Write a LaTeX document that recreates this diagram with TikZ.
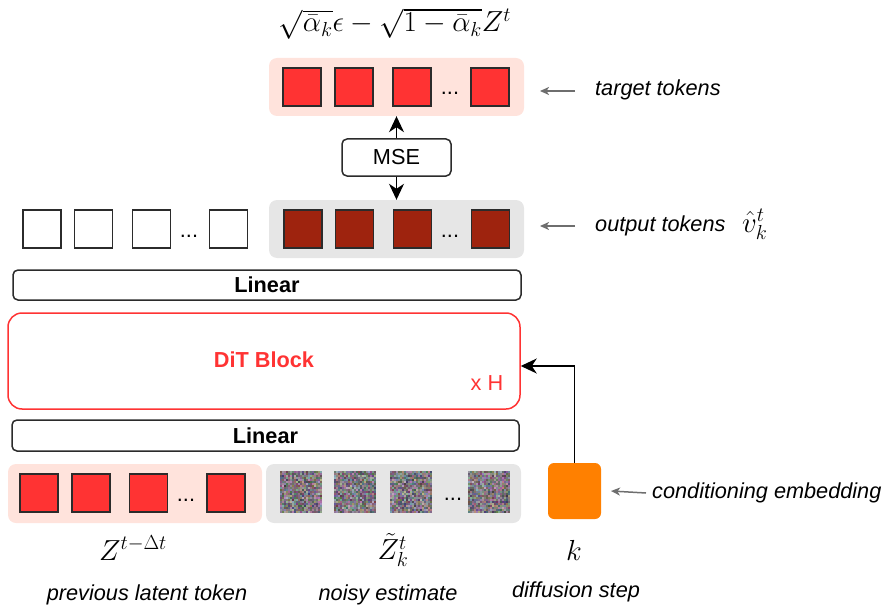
\documentclass[tikz,border=0pt]{standalone}
\usepackage{fix-cm}
\usepackage[no-math]{fontspec}
\newfontfamily\hv{Liberation Sans}
\usetikzlibrary{arrows.meta,calc}

\definecolor{tokred}{HTML}{FF3333}
\definecolor{tokdark}{HTML}{9E230E}
\definecolor{pinkbg}{HTML}{FFE3DC}
\definecolor{graybg}{HTML}{E6E6E6}
\definecolor{condorange}{HTML}{FF8000}
\definecolor{pointer}{HTML}{6E6E6E}
\definecolor{edge}{HTML}{2B2B2B}

% muted random-coloured pixels filling a square node
\newcommand\noisefill[1]{%
  \foreach \i in {0,...,20}{\foreach \j in {0,...,20}{%
    \pgfmathsetmacro\nl{0.36+0.28*rnd}%
    \pgfmathsetmacro\nr{max(0,min(1,\nl+0.26*(rnd-0.5)))}%
    \pgfmathsetmacro\ng{max(0,min(1,\nl+0.26*(rnd-0.5)-0.03))}%
    \pgfmathsetmacro\nb{max(0,min(1,\nl+0.26*(rnd-0.5)))}%
    \definecolor{nz}{rgb}{\nr,\ng,\nb}%
    \fill[nz] ($(#1.north west)+(2*\i,2*\j)$) rectangle ++(2,2);}}}

\begin{document}
\begin{tikzpicture}[x=1pt,y=-1pt,
  txt/.style={font=\hv\fontsize{21.7}{26}\selectfont},
  itxt/.style={font=\hv\itshape\fontsize{21.7}{26}\selectfont},
  btxt/.style={font=\hv\bfseries\fontsize{21.7}{26}\selectfont},
  mth/.style={font=\fontsize{29}{34}\selectfont, inner sep=0pt},
  tokbase/.style={draw=edge, line width=1.5pt, minimum width=38pt, minimum height=38pt, inner sep=0pt},
  redtok/.style={tokbase, fill=tokred},
  darktok/.style={tokbase, fill=tokdark},
  whitetok/.style={tokbase, fill=white},
  noisetok/.style={minimum size=42pt, inner sep=0pt},
  bgpink/.style={fill=pinkbg, rounded corners=8pt, inner sep=0pt},
  bggray/.style={fill=graybg, rounded corners=8pt, inner sep=0pt},
  layerbox/.style={draw=edge, line width=1.5pt, rounded corners=5pt, inner sep=0pt, fill=white},
  dots/.style={txt, anchor=base, inner sep=0pt},
  flow/.style={draw=black, line width=1.5pt, -{Stealth[length=16pt,width=15pt,inset=5pt]}},
  hint/.style={draw=pointer, line width=1.5pt, -{Stealth[length=9pt,width=8pt,inset=2.5pt]}}
]
\useasboundingbox (0,0) rectangle (883,607);

% ---------- target tokens ----------
\node[mth] (formula) at (395,24) {$\sqrt{\bar{\alpha}_k}\epsilon-\sqrt{1-\bar{\alpha}_k}Z^t$};
\node[bgpink, minimum width=255pt, minimum height=58pt] (tgtbg) at (396.5,87) {};
\node[redtok] (t1) at (302,87) {};
\node[redtok] (t2) at (354,87) {};
\node[redtok] (t3) at (412,87) {};
\node[dots] (tdots) at (450,95) {...};
\node[redtok] (t4) at (490,87) {};

% ---------- MSE ----------
\node[layerbox, minimum width=109pt, minimum height=37pt, txt] (mse) at (396.5,157.5) {MSE};

% ---------- output tokens ----------
\node[bggray, minimum width=255pt, minimum height=58pt] (outbg) at (396.5,229) {};
\node[darktok] (o1) at (303,229) {};
\node[darktok] (o2) at (354.5,229) {};
\node[darktok] (o3) at (412.5,229) {};
\node[dots] (odots) at (450,237) {...};
\node[darktok] (o4) at (490.5,229) {};

\node[whitetok] (w1) at (42,229) {};
\node[whitetok] (w2) at (93.5,229) {};
\node[whitetok] (w3) at (151.5,229) {};
\node[dots] (wdots) at (189,237) {...};
\node[whitetok] (w4) at (228.5,229) {};

\draw[flow] (mse.north) -- (tgtbg.south -| mse.north);
\draw[flow] (mse.south) -- (outbg.north -| mse.south);

% ---------- transformer stack ----------
\node[layerbox, minimum width=508pt, minimum height=30pt, btxt] (lin2) at (267,285) {Linear};
\node[draw=tokred, line width=1.5pt, rounded corners=14pt, minimum width=512pt, minimum height=96pt, inner sep=0pt] (dit) at (264,361) {};
\node[btxt, text=tokred] (ditlabel) at (264,360) {DiT Block};
\node[txt, text=tokred, anchor=base] (reps) at (487,390) {x H};
\node[layerbox, minimum width=507pt, minimum height=31pt, btxt] (lin1) at (265.5,435.5) {Linear};

% ---------- inputs ----------
\node[bgpink, minimum width=254pt, minimum height=59pt] (prevbg) at (135,493.5) {};
\node[redtok] (p1) at (39,493) {};
\node[redtok] (p2) at (91,493) {};
\node[redtok] (p3) at (148.5,493) {};
\node[dots] (pdots) at (186,501) {...};
\node[redtok] (p4) at (226,493) {};

\node[bggray, minimum width=255pt, minimum height=59pt] (noisebg) at (393.5,493.5) {};
\pgfmathsetseed{4242}
\node[noisetok] (n1) at (301.5,492) {};
\node[noisetok] (n2) at (355.5,492) {};
\node[noisetok] (n3) at (411.5,492) {};
\node[noisetok] (n4) at (489.5,492) {};
\noisefill{n1}
\noisefill{n2}
\noisefill{n3}
\noisefill{n4}
\node[dots] (ndots) at (453,500) {...};

\node[fill=condorange, rounded corners=6pt, minimum width=53pt, minimum height=56pt, inner sep=0pt] (cond) at (574.5,491) {};
\draw[flow] (cond.north) |- ([yshift=-5pt]dit.east);

% ---------- labels ----------
\node[mth] (zprev) at (133,548) {$Z^{t-\Delta t}$};
\node[mth] (znoisy) at (393,550) {$\tilde{Z}_k^t$};
\node[mth] (kstep) at (574,550) {$k$};
\node[itxt, anchor=base] (lprev) at (147,600) {previous latent token};
\node[itxt, anchor=base] (lnoisy) at (388,600) {noisy estimate};
\node[itxt, anchor=base] (lstep) at (576,597) {diffusion step};

\coordinate (tgthint) at (575,91);
\draw[hint] (tgthint) -- (540,91);
\node[itxt, anchor=base west, inner sep=0pt] (ltgt) at (595,96) {target tokens};

\coordinate (outhint) at (575,226);
\draw[hint] (outhint) -- (540,226);
\node[itxt, anchor=base west, inner sep=0pt] (lout) at (595,231) {output tokens};
\node[mth, anchor=base west] (vhat) at (742,232) {$\hat{v}_k^t$};

\coordinate (condhint) at (646,493);
\draw[hint] (condhint) -- (cond.east -| 611,0);
\node[itxt, anchor=base west, inner sep=0pt] (lcond) at (652,498) {conditioning embedding};
\end{tikzpicture}
\end{document}
